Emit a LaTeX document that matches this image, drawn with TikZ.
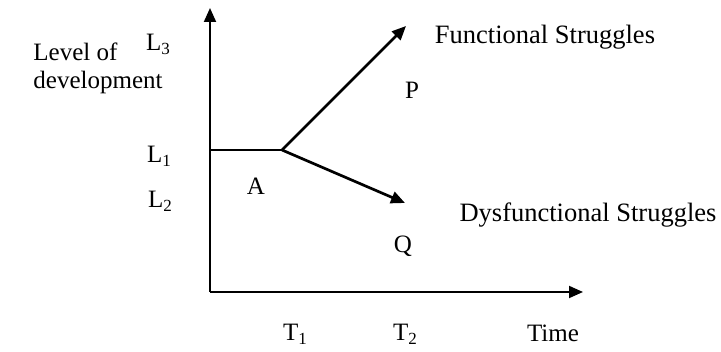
\documentclass[tikz,border=0pt]{standalone}
\usepackage{fontspec}
\setmainfont{Liberation Serif}
\usetikzlibrary{arrows.meta}
\newcommand\subsc[1]{\raisebox{-0.35ex}{\fontsize{17}{17}\selectfont #1}}
\tikzset{
  lbl/.style={inner sep=0pt, font=\fontsize{25}{28}\selectfont},
  big/.style={inner sep=0pt, font=\fontsize{26.5}{30}\selectfont},
  axis/.style={line width=1.9pt, -{Triangle[length=14pt,width=12pt]}},
  arr/.style={line width=2.7pt, -{Triangle[length=14pt,width=12pt]}},
  seg/.style={line width=1.9pt}
}
\begin{document}
\begin{tikzpicture}[x=1pt,y=1pt]
\useasboundingbox[fill=white] (0,0) rectangle (721,352);
\coordinate (O) at (210,60);
\coordinate (ytop) at (210,344);
\coordinate (xend) at (583,60);
\coordinate (L1s) at (210,202);
\coordinate (B) at (282,202);
\coordinate (Ptip) at (406,326);
\coordinate (Qtip) at (405,149);
\draw[axis] (O) -- (ytop);
\draw[axis] (O) -- (xend);
\draw[seg] (L1s) -- (B);
\draw[arr] (B) -- (Ptip);
\draw[arr] (B) -- (Qtip);
\node[lbl, align=left] (lev) at (98,284) {Level of\\development};
\node[lbl] (l3) at (158,308) {L\subsc{3}};
\node[lbl] (l1) at (159,196) {L\subsc{1}};
\node[lbl] (l2) at (160,151) {L\subsc{2}};
\node[lbl] (a) at (256,166) {A};
\node[lbl] (t1) at (295,18) {T\subsc{1}};
\node[lbl] (t2) at (405,18) {T\subsc{2}};
\node[lbl] (time) at (553,19) {Time};
\node[big] (fs) at (545,315) {Functional Struggles};
\node[lbl] (p) at (412,262) {P};
\node[big] (ds) at (588,137) {Dysfunctional Struggles};
\node[lbl] (q) at (403,106) {Q};
\end{tikzpicture}
\end{document}
